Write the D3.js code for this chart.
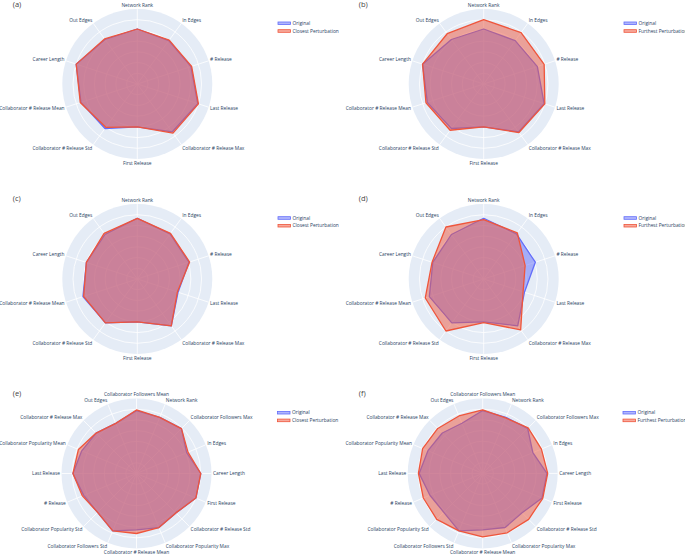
<!DOCTYPE html>
<html><head><meta charset="utf-8">
<script src="https://cdn.jsdelivr.net/npm/d3@7"></script>
<style>body{margin:0;background:#fff}svg{display:block}text{font-family:"Open Sans",sans-serif}</style>
</head><body><svg id="c" width="685" height="555"></svg>
<script>
const categories10 = ["Network Rank","In Edges","# Release","Last Release","Collaborator # Release Max","First Release","Collaborator # Release Std","Collaborator # Release Mean","Career Length","Out Edges"];
const categories16 = ["Collaborator Followers Mean","Network Rank","Collaborator Followers Max","In Edges","Career Length","First Release","Collaborator # Release Std","Collaborator Popularity Max","Collaborator # Release Mean","Collaborator Followers Std","Collaborator Popularity Std","# Release","Last Release","Collaborator Popularity Mean","Collaborator # Release Max","Out Edges"];

const originalAB = [0.77,0.75,0.79,0.89,0.83,0.60,0.77,0.83,0.90,0.77];
const perturbA   = [0.77,0.76,0.80,0.90,0.85,0.60,0.75,0.84,0.90,0.78];
const perturbB   = [0.90,0.89,0.89,0.90,0.84,0.60,0.80,0.85,0.90,0.87];
const originalCD = [0.85,0.78,0.76,0.60,0.81,0.60,0.76,0.80,0.75,0.77];
const perturbC   = [0.85,0.79,0.77,0.59,0.81,0.60,0.76,0.79,0.75,0.79];
const perturbD   = [0.83,0.80,0.61,0.58,0.88,0.61,0.90,0.86,0.76,0.90];
const originalEF = [0.88,0.85,0.89,0.76,0.90,0.90,0.78,0.82,0.79,0.87,0.77,0.80,0.89,0.83,0.80,0.76];
const perturbE   = [0.89,0.85,0.89,0.78,0.90,0.90,0.78,0.82,0.84,0.87,0.77,0.82,0.89,0.88,0.80,0.76];
const perturbF   = [0.89,0.84,0.90,0.89,0.91,0.91,0.91,0.90,0.89,0.87,0.91,0.90,0.90,0.91,0.89,0.87];

const radialRange = [0, 1.05];
const radialTicks = [0.15,0.30,0.45,0.60,0.75,0.90];
const panelLabels = ["(a)","(b)","(c)","(d)","(e)","(f)"];
const seriesNames = ["Original","Closest Perturbation","Furthest Perturbation"];

const panels = [
  {label:panelLabels[0], cats:categories10, orig:originalAB, pert:perturbA, pname:seriesNames[1], cx:137.3, cy:84, lx:278, ly:23.3, tx:12.7, ty:4},
  {label:panelLabels[1], cats:categories10, orig:originalAB, pert:perturbB, pname:seriesNames[2], cx:483.7, cy:84, lx:624, ly:23.3, tx:358.7, ty:4},
  {label:panelLabels[2], cats:categories10, orig:originalCD, pert:perturbC, pname:seriesNames[1], cx:137.3, cy:279, lx:278, ly:218, tx:12.7, ty:198.3},
  {label:panelLabels[3], cats:categories10, orig:originalCD, pert:perturbD, pname:seriesNames[2], cx:483.7, cy:279, lx:624, ly:218, tx:358.7, ty:198.3},
  {label:panelLabels[4], cats:categories16, orig:originalEF, pert:perturbE, pname:seriesNames[1], cx:136.5, cy:473.5, lx:277.5, ly:412.7, tx:12.7, ty:393.3},
  {label:panelLabels[5], cats:categories16, orig:originalEF, pert:perturbF, pname:seriesNames[2], cx:482.7, cy:473.4, lx:623, ly:412.7, tx:358.7, ty:393.3}
];

const R = 75;
const blue = "#636efa", red = "#EF553B";
const blueFill = "rgba(99,110,250,0.5)", redFill = "rgba(239,85,59,0.5)";
const svg = d3.select("#c");
const r = d3.scaleLinear().domain(radialRange).range([0, R]);
const fs = 4.85;

panels.forEach(p => {
  const n = p.cats.length;
  const ang = d3.scaleLinear().domain([0, n]).range([0, 2*Math.PI]);
  const g = svg.append("g").attr("transform", `translate(${p.cx},${p.cy})`);
  g.append("circle").attr("r", R).attr("fill", "#E5ECF6");
  g.selectAll(".gc").data(radialTicks).join("circle")
    .attr("r", d => r(d)).attr("fill", "none").attr("stroke", "#fff").attr("stroke-width", 0.8);
  g.selectAll(".sp").data(p.cats).join("line")
    .attr("x1", 0).attr("y1", 0)
    .attr("x2", (d,i) => Math.sin(ang(i))*R).attr("y2", (d,i) => -Math.cos(ang(i))*R)
    .attr("stroke", "#fff").attr("stroke-width", 0.8);
  const line = d3.lineRadial().angle((d,i) => ang(i)).radius(d => r(d)).curve(d3.curveLinearClosed);
  [[p.orig, blue, blueFill],[p.pert, red, redFill]].forEach(([vals, c, f]) => {
    g.append("path").attr("d", line(vals)).attr("fill", f).attr("stroke", c)
      .attr("stroke-width", 1.3).attr("stroke-linejoin", "round");
  });
  p.cats.forEach((name, i) => {
    const a = ang(i);
    const s = Math.sin(a), c = Math.cos(a);
    const rr = R + 1.5;
    const x = s*rr, y = -c*rr - c*2.5;
    const anchor = s > 0.1 ? "start" : (s < -0.1 ? "end" : "middle");
    g.append("text").attr("x", x).attr("y", y).attr("dy", "0.35em")
      .attr("text-anchor", anchor).attr("font-size", fs).attr("fill", "#2a3f5f").text(name);
  });
  const lg = svg.append("g").attr("transform", `translate(${p.lx},${p.ly})`);
  [[seriesNames[0], blue, blueFill],[p.pname, red, redFill]].forEach(([name, c, f], k) => {
    const yy = k*7.7;
    lg.append("rect").attr("x", 0).attr("y", yy-1.3).attr("width", 12.5).attr("height", 2.6)
      .attr("fill", f).attr("stroke", c).attr("stroke-width", 0.8);
    lg.append("text").attr("x", 14.5).attr("y", yy).attr("dy", "0.35em")
      .attr("font-size", fs).attr("fill", "#2a3f5f").text(name);
  });
  svg.append("text").attr("x", p.tx).attr("y", p.ty).attr("dy", "0.35em")
    .attr("font-size", 7.5).attr("fill", "#444").text(p.label);
});
</script></body></html>
